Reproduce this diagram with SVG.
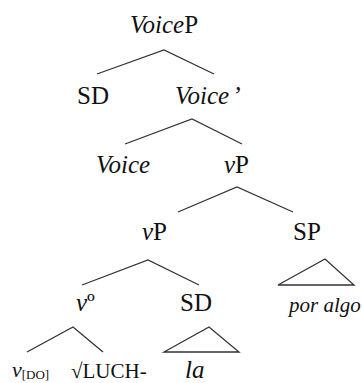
<svg xmlns="http://www.w3.org/2000/svg" width="362" height="383" viewBox="0 0 362 383">
<style>
text{font-family:"Liberation Serif","Times New Roman",serif;font-size:25px;fill:#111}
.i{font-style:italic}
.s{font-size:21px}
.sub{font-size:13px}
.e{fill:none;stroke:#333;stroke-width:1.3;stroke-linejoin:miter}
</style>
<rect width="362" height="383" fill="#fff"/>
<g id="connectors">
<polyline class="e" points="97,74 164,50 214,74"/>
<polyline class="e" points="125,144 192,119 242,144"/>
<polyline class="e" points="178,212 237,187 293,212"/>
<polyline class="e" points="82,285 148,260 199,285"/>
<polyline class="e" points="27,352 73,327 103,352"/>
<polygon class="e" points="164,352 209,327 239,352"/>
<polygon class="e" points="278,285 325,259 354,285"/>
</g>
<g id="VoiceP"><text x="130" y="33"><tspan class="i">Voice</tspan>P</text></g>
<g id="SD1"><text x="77" y="104">SD</text></g>
<g id="VoiceBar"><text class="i" x="175" y="104">Voice<tspan dx="3">’</tspan></text></g>
<g id="Voice"><text class="i" x="96" y="173">Voice</text></g>
<g id="vP1"><text x="224" y="173"><tspan class="i">v</tspan>P</text></g>
<g id="vP2"><text x="142" y="240"><tspan class="i">v</tspan>P</text></g>
<g id="SP"><text x="293" y="240">SP</text></g>
<g id="v0"><text x="76" y="311"><tspan class="i">v</tspan>º</text></g>
<g id="SD2"><text x="180" y="311">SD</text></g>
<g id="poralgo"><text class="i s" x="289" y="312">por algo</text></g>
<g id="vDO"><text class="i" x="12" y="377" style="font-size:22px">v<tspan class="sub" style="font-style:normal" dy="2">[DO]</tspan></text></g>
<g id="LUCH"><text class="s" x="71" y="378">√LUCH-</text></g>
<g id="la"><text class="i" x="185" y="378">la</text></g>
</svg>
